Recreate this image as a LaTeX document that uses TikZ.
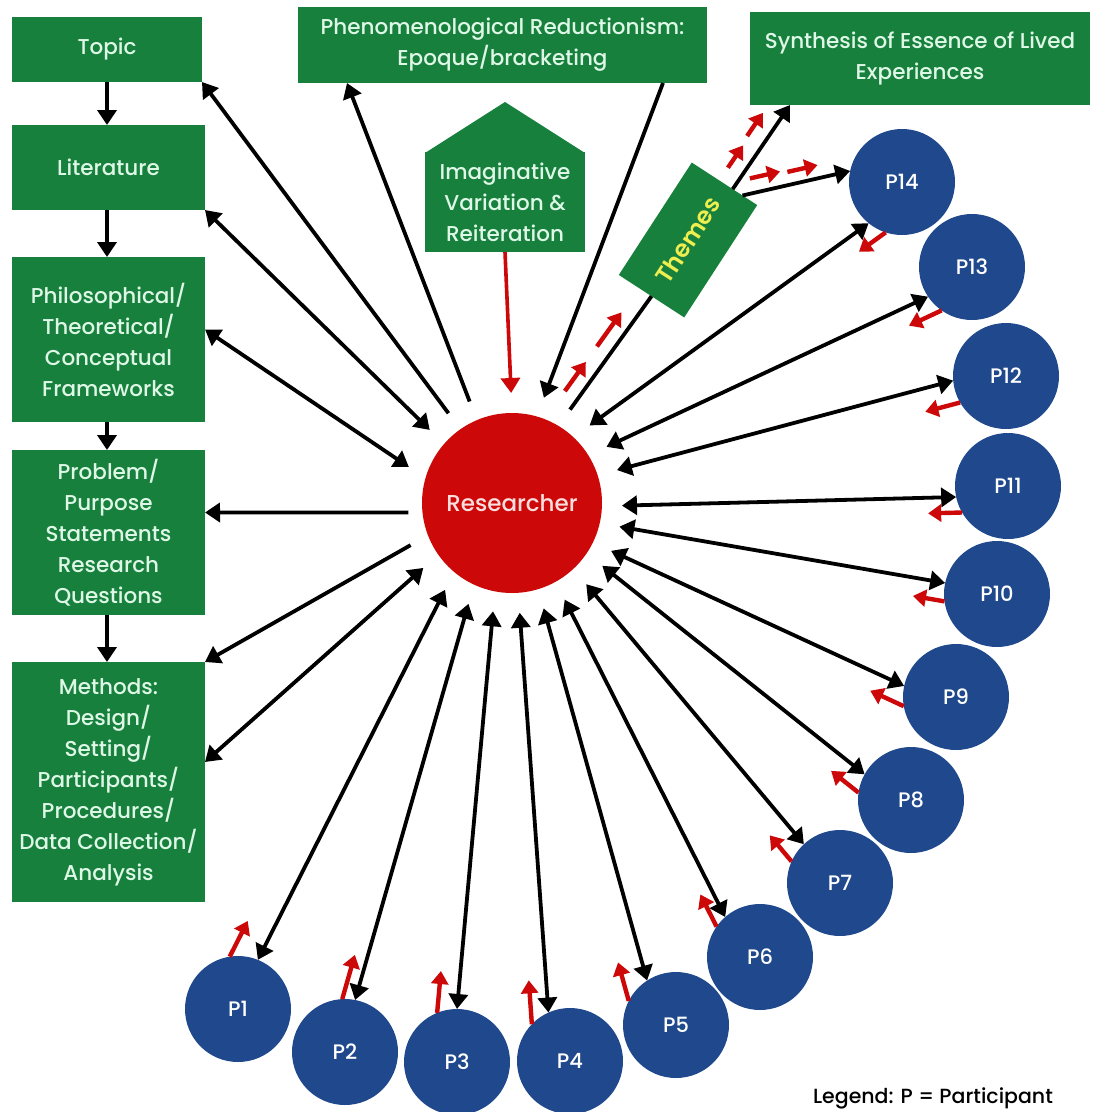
\documentclass[tikz,border=0pt]{standalone}
\usepackage{fontspec}
\setmainfont{Poppins Medium}[BoldFont={Poppins SemiBold}]
\usetikzlibrary{arrows.meta,calc}
\definecolor{boxgreen}{RGB}{22,128,60}
\definecolor{mint}{RGB}{222,247,230}
\definecolor{pblue}{RGB}{31,73,140}
\definecolor{rred}{RGB}{204,8,8}
\definecolor{themetext}{RGB}{238,238,80}
\definecolor{rtext}{RGB}{250,222,222}
\begin{document}
\begin{tikzpicture}[x=1pt,y=-1pt,
  gbox/.style={fill=boxgreen,text=mint,align=center,inner sep=0pt,outer sep=0pt,
               font=\fontsize{21.5}{31}\selectfont},
  pnode/.style={circle,fill=pblue,text=white,minimum size=106pt,inner sep=0pt,
                outer sep=0pt,font=\fontsize{21}{24}\selectfont},
  blk/.style={line width=3.8pt,-{Triangle[length=15pt,width=19pt]}},
  blkboth/.style={line width=3.8pt,{Triangle[length=15pt,width=19pt]}-{Triangle[length=15pt,width=19pt]}},
  plainline/.style={line width=3.8pt},
  redarr/.style={rred,line width=4.4pt,-{Triangle[length=13pt,width=17pt]}},
  redline/.style={rred,line width=3.6pt,-{Triangle[length=15pt,width=19pt]}},
]
\path[use as bounding box,fill=white] (0,0) rectangle (1093,1112);

% research process column
\node[gbox,minimum width=190pt,minimum height=65pt] (Topic) at (107,49.5) {Topic};
\node[gbox,minimum width=193pt,minimum height=85pt] (Lit) at (108.5,167.5) {Literature};
\node[gbox,minimum width=193pt,minimum height=165pt] (Phil) at (108.5,339.5)
  {Philosophical/\\Theoretical/\\Conceptual\\Frameworks};
\node[gbox,minimum width=193pt,minimum height=165pt] (Prob) at (108.5,532.5)
  {Problem/\\Purpose\\Statements\\Research\\Questions};
\node[gbox,minimum width=193pt,minimum height=240pt] (Meth) at (108.5,782)
  {Methods:\\Design/\\Setting/\\Participants/\\Procedures/\\Data Collection/\\Analysis};

\draw[blk] (Topic.south) -- (Topic.south |- Lit.north);
\draw[blk] (Topic.south |- Lit.south) -- (Topic.south |- Phil.north);
\draw[blk] (Topic.south |- Phil.south) -- (Topic.south |- Prob.north);
\draw[blk] (Topic.south |- Prob.south) -- (Topic.south |- Meth.north);

% top boxes
\node[gbox,minimum width=409pt,minimum height=76pt] (Phen) at (502.5,45)
  {Phenomenological Reductionism:\\Epoque/bracketing};
\node[gbox,minimum width=340pt,minimum height=93pt] (Synth) at (920,58.5)
  {Synthesis of Essence of Lived\\Experiences};
\node[gbox,minimum width=160pt,minimum height=100pt] (Imag) at (505,202)
  {Imaginative\\Variation \&\\Reiteration};
\fill[boxgreen] ($(Imag.north west)+(0,1)$) -- (505,102) -- ($(Imag.north east)+(0,1)$) -- cycle;

% researcher
\node[circle,fill=rred,minimum size=180pt,inner sep=0pt,outer sep=0pt,text=rtext,
      font=\fontsize{23}{26}\selectfont] (R) at (512,503) {Researcher};

% themes
\node[gbox,minimum width=134pt,minimum height=78pt,rotate=57,text=themetext,
      font=\fontsize{24}{26}\selectfont\bfseries] (Themes) at (688,240) {Themes};

% links between researcher and the framework boxes
\draw[blk,shorten <=20pt] (R.125) -- (Topic.south east);
\draw[blkboth,shorten <=20pt] (R.139) -- (Lit.south east);
\draw[blkboth,shorten <=20pt] (R.164) -- ($(Phil.east)+(0,-10)$);
\draw[blk,shorten <=14pt] (R.-174) -- ($(Prob.east)+(0,-20)$);
\draw[blk,shorten <=20pt] (R.-159) -- (Meth.north east);
\draw[blkboth,shorten <=20pt] (R.-145) -- ($(Meth.east)+(0,-20)$);
\draw[blk,shorten <=20pt] (R.113) -- ($(Phen.south west)+(49,0)$);
\draw[blk,shorten >=20pt] ($(Phen.south west)+(365,0)$) -- (R.74);
\draw[redline,shorten >=20pt] (Imag.south) -- (R.north);

% researcher -> themes -> synthesis / P14
\coordinate (ta) at (R.59);
\coordinate (tb) at (Themes.west);
\draw[plainline,shorten <=20pt] (ta) -- (tb);
\draw[redarr] ($(ta)!32pt!(tb)!15pt!90:(tb)$) -- ($(ta)!68pt!(tb)!15pt!90:(tb)$);
\draw[redarr] ($(ta)!87pt!(tb)!15pt!90:(tb)$) -- ($(ta)!129pt!(tb)!15pt!90:(tb)$);

\coordinate (sa) at ($(Themes.east)!0.25!(Themes.south east)$);
\coordinate (sb) at ($(Synth.south west)+(40,0)$);
\draw[blk] (sa) -- (sb);
\draw[redarr] ($(sa)!15pt!(sb)!16pt!90:(sb)$) -- ($(sa)!42pt!(sb)!16pt!90:(sb)$);
\draw[redarr] ($(sa)!52pt!(sb)!18pt!90:(sb)$) -- ($(sa)!80pt!(sb)!18pt!90:(sb)$);

% participants
\foreach \n/\px/\py in {1/238/1009,2/345/1052,3/457/1062,4/570/1061,5/676/1025,
    6/760/957,7/840/883,8/911/800,9/956/697,10/997/594,11/1008/486,
    12/1006/376,13/972/267,14/902/182}{
  \node[pnode] (P\n) at (\px,\py) {P\n};
}

\coordinate (pa) at ($(Themes.east)!0.55!(Themes.south east)$);
\coordinate (pb) at (P14.168);
\draw[blk] (pa) -- (pb);
\draw[redarr] ($(pa)!11pt!(pb)!15pt!90:(pb)$) -- ($(pa)!42pt!(pb)!15pt!90:(pb)$);
\draw[redarr] ($(pa)!49pt!(pb)!13pt!90:(pb)$) -- ($(pa)!80pt!(pb)!13pt!90:(pb)$);

% researcher <-> participant exchanges
\foreach \n/\ra/\pa/\ta/\len in {1/-130/68/99/40pt,2/-115/79/93/46pt,3/-101/90/112/42pt,
    4/-86/114/136/44pt,5/-73/123/153/40pt,6/-61/131/145/36pt,7/-47/133/156/34pt,
    8/-34/151/172/35pt,9/-26/168/190/37pt,10/-13/168/188/32pt,11/-2/192/210/34pt,
    12/18/185/210/36pt,13/32/214/235/36pt,14/47/231/252/33pt}{
  \draw[blkboth,shorten <=20pt] (R.\ra) -- (P\n.\pa);
  \coordinate (t\n) at (P\n.\ta);
  \coordinate (u\n) at ($(t\n)+(R.\ra)-(P\n.\pa)$);
  \draw[redarr] (t\n) -- ($(t\n)!\len!(u\n)$);
}

\node[font=\fontsize{20.5}{24}\selectfont,inner sep=0pt] (legend) at (933,1098)
  {Legend: P = Participant};
\end{tikzpicture}
\end{document}
